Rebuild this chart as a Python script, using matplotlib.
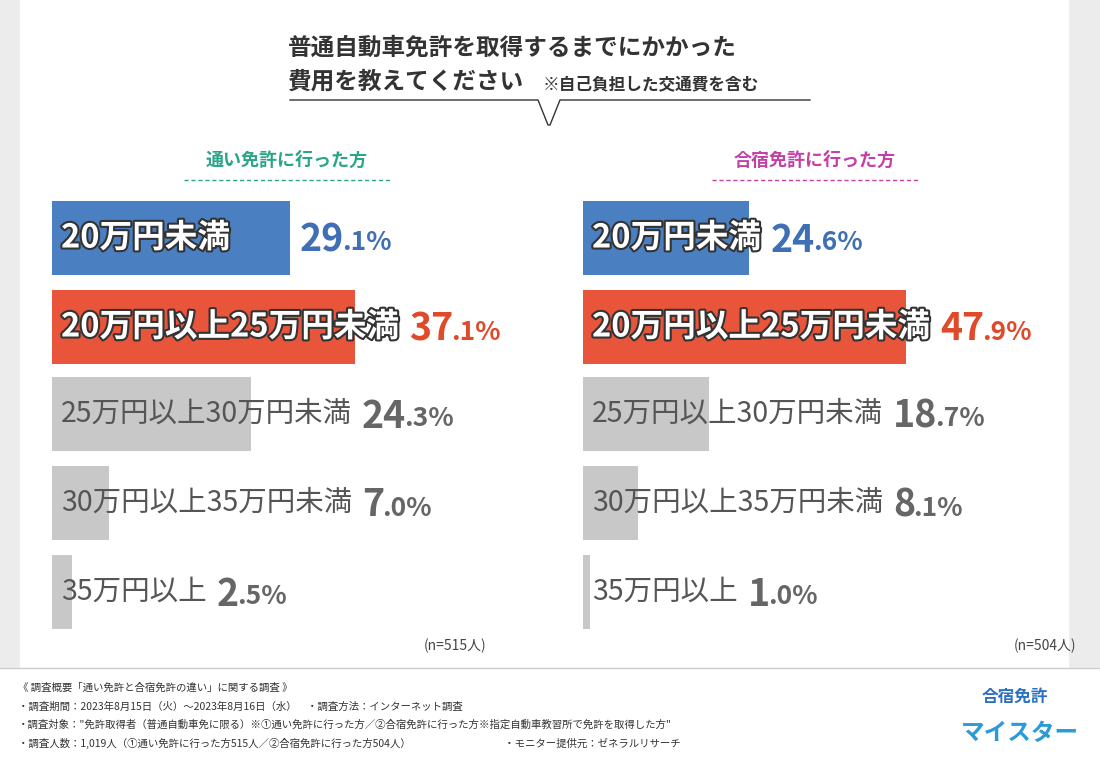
import matplotlib
matplotlib.use("Agg")
import matplotlib.pyplot as plt
import matplotlib.patheffects as pe
from matplotlib.patches import Rectangle

plt.rcParams["font.family"] = "Noto Sans CJK JP"

categories = ["20万円未満", "20万円以上25万円未満", "25万円以上30万円未満", "30万円以上35万円未満", "35万円以上"]
commute_values = [29.1, 37.1, 24.3, 7.0, 2.5]
camp_values = [24.6, 47.9, 18.7, 8.1, 1.0]
panel_titles = ["通い免許に行った方", "合宿免許に行った方"]
n_labels = ["(n=515人)", "(n=504人)"]

W, H = 1100, 762
fig = plt.figure(figsize=(11, 7.62), dpi=100)
fig.patch.set_facecolor("#ececec")
bg = fig.add_axes([0, 0, 1, 1]); bg.set_xlim(0, W); bg.set_ylim(H, 0); bg.axis("off")
bg.add_patch(Rectangle((20, 0), 1048, 668, color="white"))
bg.add_patch(Rectangle((0, 668), W, 94, color="white"))
bg.plot([0, W], [668, 668], color="#cccccc", lw=1)

bg.text(288, 48, "普通自動車免許を取得するまでにかかった", ha="left", va="center", fontsize=17, weight="bold", color="#333")
bg.text(288, 82, "費用を教えてください", ha="left", va="center", fontsize=17, weight="bold", color="#333")
bg.text(543, 84, "※自己負担した交通費を含む", ha="left", va="center", fontsize=12, weight="bold", color="#333")
bg.plot([290, 538, 548, 550, 560, 810], [100, 100, 125, 125, 100, 100], color="#333", lw=1)

sub_colors = ["#2aa58a", "#c43fa8"]
for cx, t, c in zip([287, 815], panel_titles, sub_colors):
    bg.text(cx, 160, t, ha="center", va="center", fontsize=13, weight="bold", color=c)
    bg.plot([cx - 103, cx + 103], [180, 180], color=c, lw=1, ls=(0, (3, 2)))
bg.text(455, 646, n_labels[0], ha="center", va="center", fontsize=10, color="#444")
bg.text(1045, 646, n_labels[1], ha="center", va="center", fontsize=10, color="#444")

foot = ["《 調査概要「通い免許と合宿免許の違い」に関する調査 》",
        "・調査期間：2023年8月15日（火）〜2023年8月16日（水）　・調査方法：インターネット調査",
        "・調査対象：\"免許取得者（普通自動車免に限る）※①通い免許に行った方／②合宿免許に行った方※指定自動車教習所で免許を取得した方\"",
        "・調査人数：1,019人（①通い免許に行った方515人／②合宿免許に行った方504人）　　　　　　　　　・モニター提供元：ゼネラルリサーチ"]
for i, t in enumerate(foot):
    bg.text(18, 688 + i * 18.5, t, ha="left", va="center", fontsize=7.5, color="#333")
bg.text(1015, 697, "合宿免許", ha="center", va="center", fontsize=12, weight="bold", color="#2a6fc0")
bg.text(1020, 733, "マイスター", ha="center", va="center", fontsize=17, weight="bold", color="#2a9ad8")

bar_colors = ["#4a7fc1", "#e8553a", "#c8c8c8", "#c8c8c8", "#c8c8c8"]
val_colors = ["#3f6fb5", "#e04a2a", "#666666", "#666666", "#666666"]
ycen = [238, 327, 414, 503, 592]
bh = 74

fig.canvas.draw()
r = fig.canvas.get_renderer()
for x0, pxper, vals in [(52, 8.18, commute_values), (583, 6.74, camp_values)]:
    for cat, v, bc, vc, yc in zip(categories, vals, bar_colors, val_colors, ycen):
        bg.add_patch(Rectangle((x0, yc - bh / 2), v * pxper, bh, color=bc, lw=0))
        colored = bc != "#c8c8c8"
        if colored:
            t = bg.text(x0 + 9, yc, cat, ha="left", va="center", fontsize=23.5, weight="bold", color="white",
                        path_effects=[pe.withStroke(linewidth=3, foreground="#333")])
        else:
            t = bg.text(x0 + 9, yc, cat, ha="left", va="center", fontsize=20.5, color="#555")
        bb = t.get_window_extent(r)
        vx = max(bb.x1, x0 + v * pxper) + 10
        ip, fp = f"{v:.1f}".split(".")
        t1 = bg.text(vx, yc + 2, ip, ha="left", va="center", fontsize=27, weight="bold", color=vc)
        b1 = t1.get_window_extent(r)
        bg.text(b1.x1 - 2, yc + 5, "." + fp + "%", ha="left", va="center", fontsize=19, weight="bold", color=vc)

fig.savefig("out.png", dpi=100)
